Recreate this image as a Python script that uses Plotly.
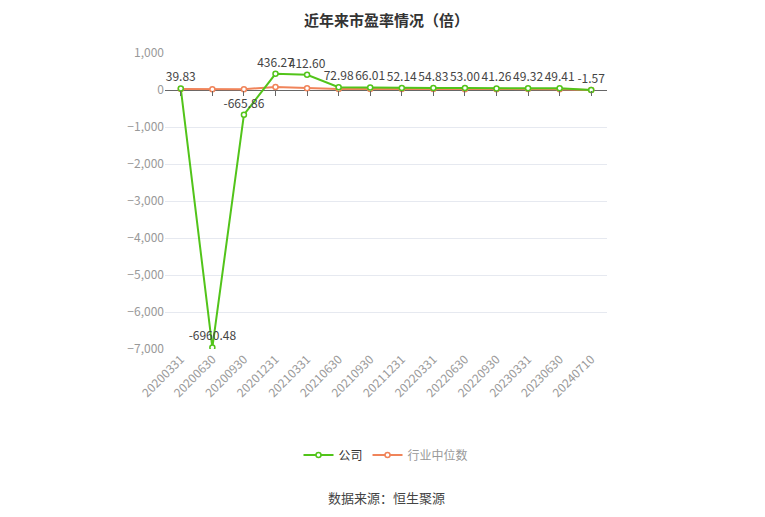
import plotly.graph_objects as go

# reporting dates and PE values
dates = ["20200331", "20200630", "20200930", "20201231", "20210331", "20210630", "20210930",
         "20211231", "20220331", "20220630", "20220930", "20230331", "20230630", "20240710"]
company_pe = [39.83, -6960.48, -665.86, 436.27, 412.60, 72.98, 66.01,
              52.14, 54.83, 53.00, 41.26, 49.32, 49.41, -1.57]
industry_pe = [25, 18, 22, 80, 50, 28, 26, 25, 24, 23, 22, 24, 23, -2]

y_ticks = [1000, 0, -1000, -2000, -3000, -4000, -5000, -6000, -7000]
y_min, y_max = -7000, 1000

green = "#52c41a"
orange = "#f0845a"

fig = go.Figure()

fig.add_trace(go.Scatter(
    x=dates, y=industry_pe, name="<span style='color:#999'>行业中位数</span>",
    mode="lines+markers",
    line=dict(color=orange, width=2),
    marker=dict(symbol="circle", size=5, color="white", line=dict(color=orange, width=1.5)),
))

fig.add_trace(go.Scatter(
    x=dates, y=company_pe, name="公司",
    mode="lines+markers+text",
    text=[f"{v:.2f}" for v in company_pe],
    textposition="top center",
    textfont=dict(size=12, color="#444"),
    line=dict(color=green, width=2),
    marker=dict(symbol="circle", size=5, color="white", line=dict(color=green, width=1.5)),
))

# empty helper trace so the tick-only axis sitting on the zero line gets drawn
fig.add_trace(go.Scatter(x=dates, y=[None] * len(dates), xaxis="x2",
                         showlegend=False, hoverinfo="skip"))

# page body has an 8px margin, so the figure is a bit smaller than the window
fig.update_layout(
    width=757, height=509,
    margin=dict(l=157, r=158, t=45, b=168),
    plot_bgcolor="white", paper_bgcolor="white",
    font=dict(family="Noto Sans CJK SC, sans-serif", size=12, color="#999"),
    title=dict(text="<b>近年来市盈率情况（倍）</b>", x=0.5, xanchor="center",
               y=0.975, yanchor="middle", font=dict(size=15, color="#333")),
    showlegend=True,
    legend=dict(orientation="h", x=0.5, xanchor="center", y=-0.358, yanchor="middle",
                traceorder="reversed", font=dict(size=12, color="#333")),
    annotations=[dict(text="数据来源：恒生聚源", x=0.5, xref="paper", y=-0.503, yref="paper",
                      yanchor="middle", showarrow=False, font=dict(size=13, color="#444"))],
    xaxis=dict(type="category", range=[-0.5, len(dates) - 0.5],
               tickangle=-45, ticks="",
               showgrid=False, showline=False, zeroline=False,
               tickfont=dict(size=12, color="#999")),
    xaxis2=dict(type="category", overlaying="x", anchor="free",
                position=(0 - y_min) / (y_max - y_min), side="bottom",
                range=[-0.5, len(dates) - 0.5], ticks="outside", ticklen=5, tickcolor="#666",
                showticklabels=False, showgrid=False, showline=False, zeroline=False),
    yaxis=dict(range=[y_min, y_max], tickvals=y_ticks,
               tickformat=",", showgrid=True, gridcolor="#e6e9f0",
               zeroline=True, zerolinecolor="#666", zerolinewidth=1,
               showline=False, tickfont=dict(size=12, color="#999")),
)

fig.write_html("out.html")
